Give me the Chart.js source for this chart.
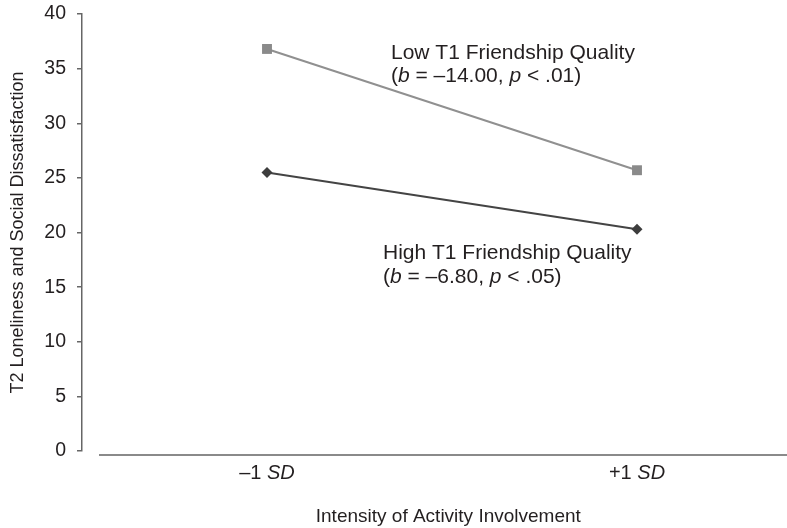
<!DOCTYPE html>
<html><head><meta charset="utf-8">
<script src="https://cdn.jsdelivr.net/npm/chart.js@4.4.1/dist/chart.umd.min.js"></script>
<style>html,body{margin:0;padding:0;background:#fff}canvas{display:block}</style>
</head><body>
<canvas id="c" width="787" height="528"></canvas>
<script>
// ---- data ----
const categories = ['–1 *SD*', '+1 *SD*'];
const categoryX = [0, 1];
const lowFQ = [36.8, 25.7];
const highFQ = [25.5, 20.3];
const yTicks = [0, 5, 10, 15, 20, 25, 30, 35, 40];
const lowLabel = ['Low T1 Friendship Quality', '(*b* = –14.00, *p* < .01)'];
const highLabel = ['High T1 Friendship Quality', '(*b* = –6.80, *p* < .05)'];
const xTitle = 'Intensity of Activity Involvement';
const yTitle = 'T2 Loneliness and Social Dissatisfaction';

const FAM = '"Liberation Sans", Arial, Helvetica, sans-serif';
const TXT = '#231f20';

function drawRich(ctx, str, x, y, size, align) {
  const parts = str.split('*').map((t, i) => ({ t, i: i % 2 === 1 })).filter(p => p.t.length);
  let total = 0;
  parts.forEach(p => { ctx.font = (p.i ? 'italic ' : '') + size + 'px ' + FAM; p.w = ctx.measureText(p.t).width; total += p.w; });
  let cx = align === 'center' ? x - total / 2 : x;
  ctx.textAlign = 'left';
  parts.forEach(p => { ctx.font = (p.i ? 'italic ' : '') + size + 'px ' + FAM; ctx.fillText(p.t, cx, y); cx += p.w; });
}

const extras = {
  id: 'extras',
  afterDraw(chart) {
    const { ctx, chartArea } = chart;
    const xs = chart.scales.x, ys = chart.scales.y;
    ctx.save();
    // x axis line
    ctx.strokeStyle = '#8a8a8a';
    ctx.lineWidth = 2;
    ctx.beginPath();
    ctx.moveTo(chartArea.left + 17, chartArea.bottom + 4);
    ctx.lineTo(chart.width, chartArea.bottom + 4);
    ctx.stroke();
    ctx.fillStyle = TXT;
    ctx.textBaseline = 'alphabetic';
    // x tick labels
    categories.forEach((c, i) => {
      drawRich(ctx, c, xs.getPixelForValue(categoryX[i]), chartArea.bottom + 28, 20, 'center');
    });
    // x title
    drawRich(ctx, xTitle, xs.getPixelForValue(0.49), chartArea.bottom + 71, 19, 'center');
    // annotations
    const lx = xs.getPixelForValue(0.335), ly = ys.getPixelForValue(35.88);
    lowLabel.forEach((l, i) => drawRich(ctx, l, lx, ly + i * 23, 21, 'left'));
    const hx = xs.getPixelForValue(0.3135), hy = ys.getPixelForValue(17.57);
    highLabel.forEach((l, i) => drawRich(ctx, l, hx, hy + i * 24, 21, 'left'));
    ctx.restore();
  }
};

new Chart(document.getElementById('c'), {
  type: 'line',
  data: {
    datasets: [
      {
        label: 'Low T1 Friendship Quality',
        data: categoryX.map((x, i) => ({ x, y: lowFQ[i] })),
        borderColor: '#909090', backgroundColor: '#8a8a8a',
        borderWidth: 2, pointStyle: 'rect', pointRadius: 7, pointBorderWidth: 0,
        tension: 0
      },
      {
        label: 'High T1 Friendship Quality',
        data: categoryX.map((x, i) => ({ x, y: highFQ[i] })),
        borderColor: '#444444', backgroundColor: '#3d3d3d',
        borderWidth: 2, pointStyle: 'rectRot', pointRadius: 5.5, pointBorderWidth: 0,
        tension: 0
      }
    ]
  },
  options: {
    responsive: false, animation: false, devicePixelRatio: 1,
    layout: { padding: { top: 14, bottom: 77, right: 2, left: 0 }, autoPadding: false },
    plugins: { legend: { display: false }, tooltip: { enabled: false } },
    scales: {
      x: { type: 'linear', min: -0.5, max: 1.4, display: false },
      y: {
        min: 0, max: 40,
        afterBuildTicks: s => { s.ticks = yTicks.map(v => ({ value: v })); },
        afterFit: s => { s.width = 82; s.paddingTop = 0; s.paddingBottom = 0; },
        ticks: { color: TXT, font: { size: 19.5, family: FAM }, padding: 11 },
        grid: { drawOnChartArea: false, drawTicks: true, tickLength: 5, color: '#666', lineWidth: 1.5 },
        border: { display: true, color: '#666', width: 1.5 },
        title: { display: true, text: yTitle, color: TXT, font: { size: 18, family: FAM }, padding: { top: 7, bottom: 0 } }
      }
    }
  },
  plugins: [extras]
});
</script>
</body></html>
